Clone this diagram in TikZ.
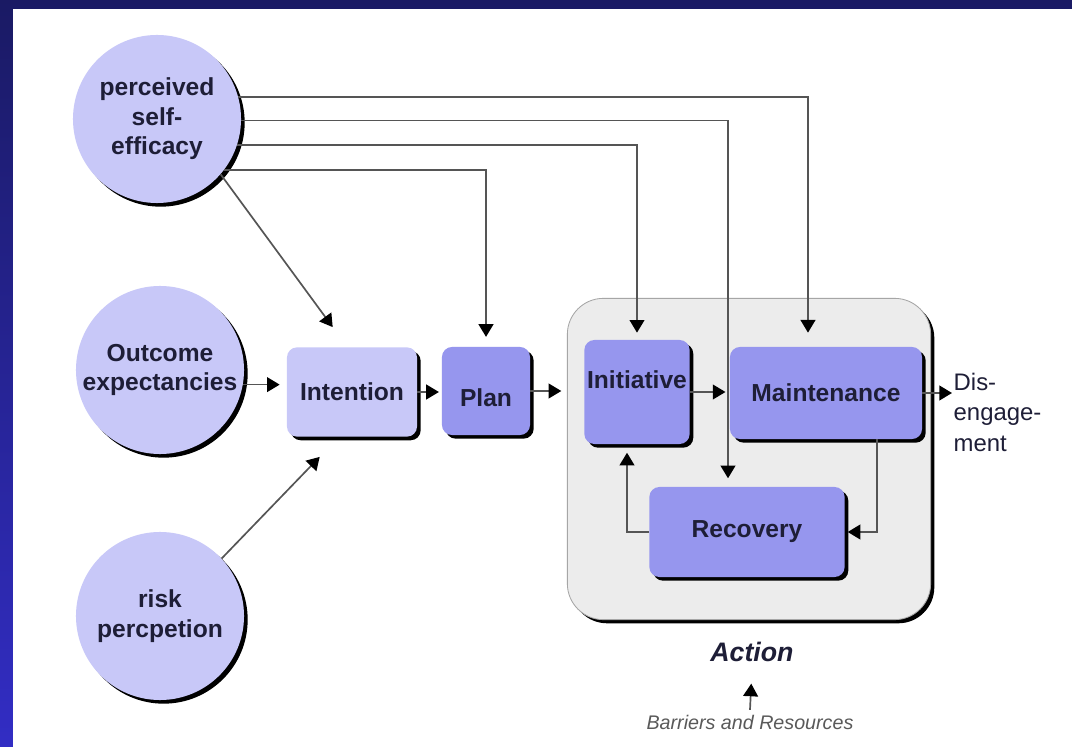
\documentclass[tikz,border=0pt]{standalone}
\usepackage{fontspec}
\setmainfont{Liberation Sans}
\usetikzlibrary{arrows.meta,calc,shadows}
\definecolor{lightlav}{RGB}{200,200,248}
\definecolor{midlav}{RGB}{150,150,238}
\definecolor{actgray}{RGB}{236,236,236}
\definecolor{linegray}{RGB}{85,85,85}
\definecolor{inktext}{RGB}{30,30,55}
\definecolor{navytop}{RGB}{26,26,100}
\definecolor{navybot}{RGB}{50,45,196}

\tikzset{
  shad/.style={drop shadow={shadow xshift=2.6pt,shadow yshift=-2.6pt,opacity=1,fill=black}},
  factor/.style={circle,fill=lightlav,shad,minimum size=4.2cm,inner sep=0pt,align=center,
    font=\bfseries\fontsize{17.5}{21}\selectfont,text=inktext},
  phase/.style={rounded corners=0.25cm,fill=midlav,shad,inner sep=0pt,align=center,
    font=\bfseries\fontsize{17.5}{21}\selectfont,text=inktext},
  actbox/.style={rounded corners=0.9cm,fill=actgray,draw=gray!70,line width=0.6pt,shad,
    minimum width=9.08cm,minimum height=8.03cm},
  conn/.style={draw=linegray,line width=1.2pt,-{Triangle[width=10.5pt,length=9pt,color=black]}},
}

\begin{document}
\begin{tikzpicture}[x=0.025cm,y=-0.025cm]
	\fill[top color=navytop,bottom color=navybot] (0,0) rectangle (1072,747);
	\fill[white] (13,9) rectangle (1072,747);

	\node[factor] (eff) at (157,119) {perceived\\self-\\efficacy};
	\node[factor] (outc) at (160,370) {Outcome\\expectancies};
	\node[factor] (risk) at (160,616) {risk\\percpetion};

	\node[actbox] (action) at (749,459) {};

	\node[phase,fill=lightlav,minimum width=3.25cm,minimum height=2.23cm] (intent) at (352,392) {Intention};
	\node[phase,minimum width=2.2cm,minimum height=2.2cm,text height=22pt] (plan) at (486,391) {Plan};
	\node[phase,minimum width=2.63cm,minimum height=2.6cm,text depth=17pt] (init) at (637,392) {Initiative};
	\node[phase,minimum width=4.8cm,minimum height=2.3cm] (maint) at (826,393) {Maintenance};
	\node[phase,minimum width=4.88cm,minimum height=2.25cm] (rec) at (747,532) {Recovery};

	\node[anchor=north west,align=left,inner sep=1pt,text=inktext,
		font=\fontsize{17}{22}\selectfont] (dis) at (952,371) {Dis-\\engage-\\ment};
	\node[text=inktext,font=\bfseries\itshape\fontsize{19}{22}\selectfont] (act) at (752,652) {Action};
	\node[text=black!65,font=\itshape\fontsize{14}{16}\selectfont] (barr) at (750,722) {Barriers and Resources};

	\draw[conn,shorten >=10pt] (eff.15) -| ($(maint.north)+(-18,0)$);
	\draw[conn,shorten >=6pt] (eff.-1) -| ($(rec.north)+(-19,0)$);
	\draw[conn,shorten >=5pt] (eff.-18) -| (init.north);
	\draw[conn,shorten >=7pt] (eff.-37) -| (plan.north);
	\draw[conn] (eff.-41) -- ($(intent.north west)+(46,-20)$);
	\draw[conn,shorten >=5pt] (outc.-10) -- (outc.-10 -| intent.west);
	\draw[conn] (risk.43) -- ($(intent.south west)+(33,20)$);
	\draw[conn,shorten >=2pt] (intent.east) -- (intent.east -| plan.west);
	\draw[conn,shorten >=4pt] (plan.east) -- (plan.east -| action.west);
	\draw[conn,shorten >=3pt] (init.east) -- (init.east -| maint.west);
	\draw[conn,shorten >=2pt] ($(maint.south)+(51,0)$) |- (rec.east);
	\draw[conn,shorten >=6pt] (rec.west) -| ($(init.south)+(-10,0)$);
	\draw[conn] (maint.east) -- (maint.east -| dis.west);
	\draw[conn,shorten >=12pt] (barr.north) -- (act.south);
\end{tikzpicture}
\end{document}
